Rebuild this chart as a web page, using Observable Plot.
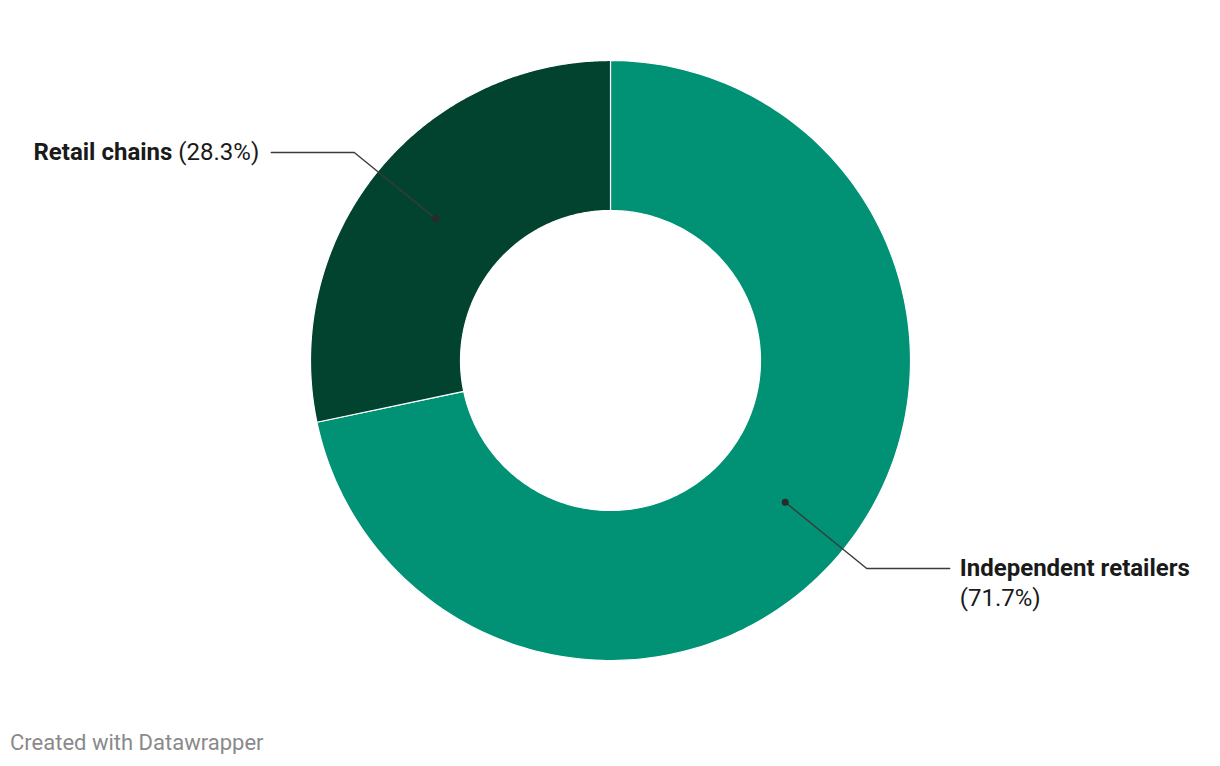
<!DOCTYPE html>
<html>
<head>
<meta charset="utf-8">
<script src="https://cdn.jsdelivr.net/npm/d3@7"></script>
<script src="https://cdn.jsdelivr.net/npm/@observablehq/plot@0.6"></script>
<style>
  html, body { margin: 0; padding: 0; background: #fff; }
  #chart svg { display: block; }
  #caption { font-family: Roboto, sans-serif; font-size: 22px; line-height: 22px; color: #8a8a8a; margin-top: 12px; padding-left: 10px; }
</style>
</head>
<body>
<div id="chart"></div>
<div id="caption">Created with Datawrapper</div>
<script>
const categories = ["Independent retailers", "Retail chains"];
const shares = [71.7, 28.3];
const colors = ["#019174", "#02432f"];
const pctLabels = ["(71.7%)", "(28.3%)"];

const W = 1220, H = 720, R = 300; // px per unit radius
const innerR = 0.5, outerR = 1.0, midR = 0.75, elbowR = 1.1, armPx = 83;

const total = d3.sum(shares);
let acc = 0;
const slices = categories.map((c, i) => {
  const a0 = acc / total * 2 * Math.PI;
  acc += shares[i];
  const a1 = acc / total * 2 * Math.PI;
  return {cat: c, value: shares[i], a0, a1, mid: (a0 + a1) / 2, pct: pctLabels[i]};
});

// polygon vertices for each donut segment (angles clockwise from 12 o'clock)
const pts = [];
for (const s of slices) {
  const n = 240;
  for (let k = 0; k <= n; k++) {
    const a = s.a0 + (s.a1 - s.a0) * k / n;
    pts.push({cat: s.cat, x: outerR * Math.sin(a), y: outerR * Math.cos(a)});
  }
  for (let k = n; k >= 0; k--) {
    const a = s.a0 + (s.a1 - s.a0) * k / n;
    pts.push({cat: s.cat, x: innerR * Math.sin(a), y: innerR * Math.cos(a)});
  }
}

// leader lines
const leaders = [];
const anchors = [];
for (const s of slices) {
  const side = Math.sin(s.mid) >= 0 ? 1 : -1;
  const dot = {x: midR * Math.sin(s.mid), y: midR * Math.cos(s.mid)};
  const elbow = {x: elbowR * Math.sin(s.mid), y: elbowR * Math.cos(s.mid)};
  const end = {x: elbow.x + side * armPx / R, y: elbow.y};
  leaders.push({cat: s.cat, ...dot}, {cat: s.cat, ...elbow}, {cat: s.cat, ...end});
  anchors.push({cat: s.cat, pct: s.pct, side, dotX: dot.x, dotY: dot.y, x: end.x, y: end.y});
}
const right = anchors.filter(d => d.side > 0);
const left = anchors.filter(d => d.side < 0);

const xHalf = (W / 2) / R, yHalf = (H / 2) / R;

const chart = Plot.plot({
  width: W, height: H,
  margin: 0,
  x: {domain: [-xHalf, xHalf], axis: null},
  y: {domain: [-yHalf, yHalf], axis: null},
  color: {domain: categories, range: colors},
  style: {fontFamily: "Roboto, sans-serif"},
  marks: [
    Plot.line(pts, {x: "x", y: "y", z: "cat", fill: "cat", stroke: "white", strokeWidth: 1.2, curve: "linear-closed"}),
    Plot.line(leaders, {x: "x", y: "y", z: "cat", stroke: "#3a3a3a", strokeWidth: 1.4}),
    Plot.dot(anchors, {x: "dotX", y: "dotY", r: 3.5, fill: "#2a2a2a", stroke: null}),
    // right labels: bold name + percentage on second line
    Plot.text(right, {x: "x", y: "y", text: "cat", textAnchor: "start", dx: 10, fontSize: 24, fontWeight: "bold", fill: "#1a1a1a"}),
    Plot.text(right, {x: "x", y: "y", text: "pct", textAnchor: "start", dx: 10, dy: 30, fontSize: 24, fill: "#1a1a1a"}),
    // left labels: single line "Name (pct)"
    Plot.text(left, {x: "x", y: "y", text: d => d.cat + "\u0001" + d.pct, textAnchor: "end", dx: -12, fontSize: 24, fill: "#1a1a1a", className: "lbl-mixed"})
  ]
});

// split the single-line left labels into bold name + regular percentage
d3.select(chart).selectAll(".lbl-mixed text").each(function() {
  const t = d3.select(this);
  const parts = t.text().split("\u0001");
  t.text(null);
  t.append("tspan").attr("font-weight", "bold").text(parts[0]);
  t.append("tspan").text(" " + parts[1]);
});

document.getElementById("chart").appendChild(chart);
</script>
</body>
</html>
